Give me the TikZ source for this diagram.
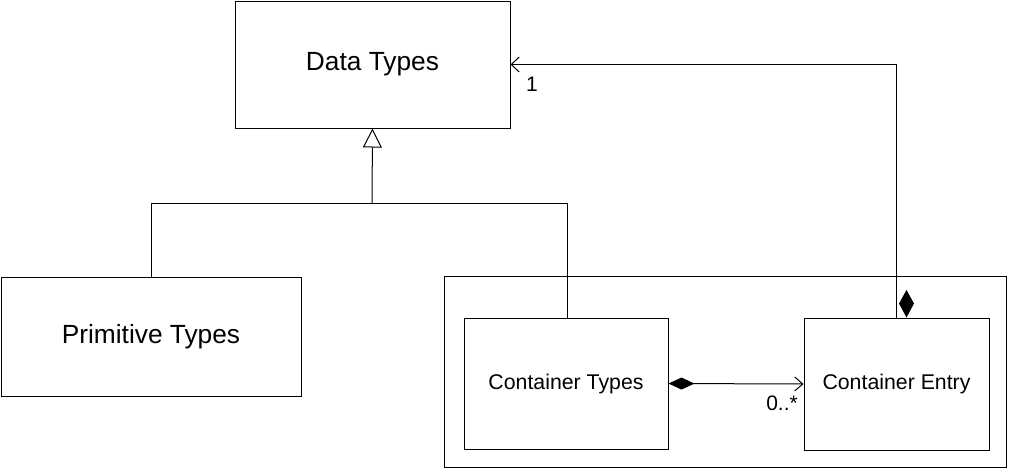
\documentclass[tikz,border=0pt]{standalone}
\usepackage{fontspec}
\setmainfont{Liberation Sans}
\usetikzlibrary{arrows.meta}
\tikzset{
  box/.style={draw=black, line width=1pt, rectangle, inner sep=0pt, anchor=center},
  bigtxt/.style={font=\fontsize{26.3}{31}\selectfont},
  smalltxt/.style={font=\fontsize{21.3}{25}\selectfont},
  conn/.style={draw=black, line width=1pt},
  lbl/.style={font=\fontsize{21}{25}\selectfont, inner sep=0pt}
}
\begin{document}
\begin{tikzpicture}[x=1pt,y=-1pt]
\useasboundingbox (0,0) rectangle (1009,469);
% outer package box
\node[box, minimum width=562pt, minimum height=191pt] (outer) at (725.5,372) {};
% classes
\node[box, bigtxt, minimum width=275pt, minimum height=127pt] (dt) at (372.5,64.5) {Data Types};
\node[box, bigtxt, minimum width=300pt, minimum height=119pt] (pt) at (151,336.5) {Primitive Types};
\node[box, smalltxt, minimum width=204pt, minimum height=131pt] (ct) at (566,383.5) {Container Types};
\node[box, smalltxt, minimum width=185pt, minimum height=132pt] (ce) at (896.5,384) {Container Entry};
% generalization
\coordinate (j) at (372,203);
\draw[conn, -{Triangle[open, length=19pt, width=19pt]}] (j) -- (dt.south);
\draw[conn] (j) -| (pt.north);
\draw[conn] (j) -| ([xshift=1pt]ct.north);
% association Container Entry -> Data Types
\coordinate (bend) at (896.5,64.5);
\draw[conn, -{Straight Barb[length=8pt, width=15pt]}] (ce.north) -- (bend) -- (dt.east);
\node[lbl, anchor=base west] (one) at (526,91) {1};
% composition diamond at Container Entry top
\coordinate (dmd) at (906.5,303.5);
\fill[black] (906.5,290) -- (914,303.5) -- (906.5,317.5) -- (899,303.5) -- cycle;
% composition Container Types -> Container Entry
\draw[conn, {Diamond[length=26pt, width=12pt, fill=black]}-{Straight Barb[length=8pt, width=14pt]}] (ct.east) -- (ce.west);
\node[lbl, anchor=base east] (mult) at (798,410) {0..*};
\end{tikzpicture}
\end{document}
